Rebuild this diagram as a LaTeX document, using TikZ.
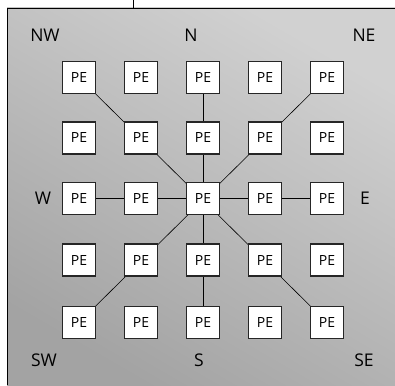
\documentclass[tikz,border=0pt]{standalone}
\usepackage{fontspec}
\setmainfont{Open Sans}
\begin{document}
\begin{tikzpicture}[x=1pt,y=-1pt,
  pe/.style={draw=black!85,line width=1.3pt,fill=white,minimum width=33pt,minimum height=32pt,inner sep=0pt,font=\fontsize{14}{14}\selectfont},
  dir/.style={inner sep=0pt,font=\fontsize{17.5}{17.5}\selectfont},
  link/.style={draw=black,line width=0.6pt}]
\useasboundingbox (0,0) rectangle (395,385);
\shade[shading=axis,top color=black!18,bottom color=black!36,shading angle=-30] (7,8) rectangle (395,385);
\draw[line width=0.8pt] (7,385) -- (7,8) -- (395,8);
\coordinate (tk1) at (133,0); \coordinate (tk2) at (133,8);
\draw[line width=0.6pt] (tk1) -- (tk2);
% grid positions
\foreach \i [count=\r] in {77.5,138,198.5,260,322.5}{
  \foreach \j [count=\c] in {79,141,203,265,327}{
    \coordinate (p\r\c) at (\j,\i);
  }
}
\draw[link] (p11) -- (p55);
\draw[link] (p15) -- (p51);
\draw[link] (p13) -- (p53);
\draw[link] (p31) -- (p35);
\foreach \r in {1,...,5}{
  \foreach \c in {1,...,5}{
    \node[pe] (n\r\c) at (p\r\c) {PE};
  }
}
\node[dir] (nw) at (45,35) {NW};
\node[dir] (nn) at (191,35) {N};
\node[dir] (ne) at (364,35) {NE};
\node[dir] (ww) at (43,198) {W};
\node[dir] (ee) at (365,198) {E};
\node[dir] (sw) at (44,360) {SW};
\node[dir] (ss) at (199,360) {S};
\node[dir] (se) at (364,360) {SE};
\end{tikzpicture}
\end{document}
